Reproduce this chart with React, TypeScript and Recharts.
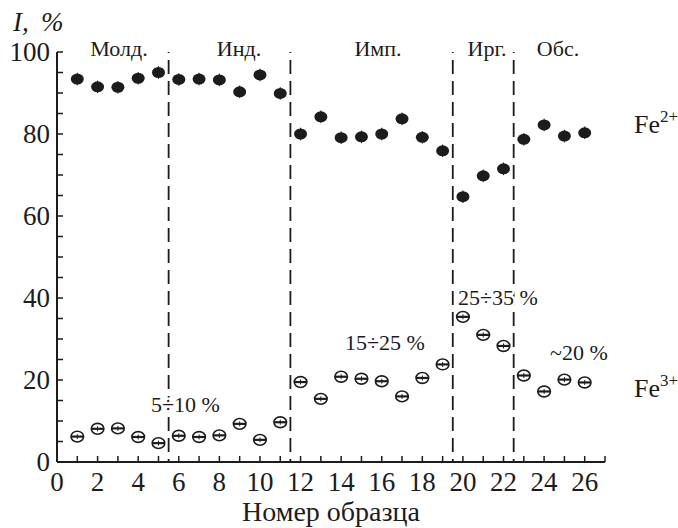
// Интенсивность Fe2+/Fe3+ по номерам образцов (мёссбауэровские спектры)
import { ReferenceLine, Scatter, ScatterChart, XAxis, YAxis } from 'recharts'

const samples = [1, 2, 3, 4, 5, 6, 7, 8, 9, 10, 11, 12, 13, 14, 15, 16, 17, 18, 19, 20, 21, 22, 23, 24, 25, 26]
const fe2Values = [
  93.4, 91.5, 91.4, 93.6, 95.0, 93.3, 93.4, 93.2, 90.3, 94.4, 89.9, 80.0, 84.2, 79.1, 79.3, 80.0,
  83.7, 79.2, 75.9, 64.7, 69.8, 71.5, 78.7, 82.2, 79.5, 80.3,
]
const fe3Values = [
  6.2, 8.1, 8.2, 6.1, 4.6, 6.4, 6.1, 6.5, 9.3, 5.4, 9.7, 19.5, 15.4, 20.8, 20.3, 19.7, 16.0, 20.5,
  23.8, 35.4, 31.0, 28.3, 21.1, 17.2, 20.1, 19.4,
]
const groupBorders = [5.5, 11.5, 19.5, 22.5]
const xTicks = Array.from({ length: 28 }, (_, i) => i)
const yTicks = Array.from({ length: 21 }, (_, i) => i * 5)

const fe2Data = samples.map((x, i) => ({ x, y: fe2Values[i] }))
const fe3Data = samples.map((x, i) => ({ x, y: fe3Values[i] }))

const W = 678
const H = 528
const INK = '#1d1b1c'
const serif = { fontFamily: "'Liberation Serif', 'Times New Roman', serif" }

function YTick({ x, y, payload }: any) {
  const v = payload.value
  return (
    <g>
      <line x1={x} x2={x + 6} y1={y} y2={y} stroke={INK} strokeWidth={1.5} />
      {v % 20 === 0 && (
        <text x={x - 7} y={y} dy="0.35em" textAnchor="end" fontSize={27} style={serif} fill={INK}>
          {v}
        </text>
      )}
    </g>
  )
}

function XTick({ x, y, payload }: any) {
  const v = payload.value
  return (
    <g>
      {v > 0 && <line x1={x} x2={x} y1={y} y2={y - 6} stroke={INK} strokeWidth={1.5} />}
      {v % 2 === 0 && (
        <text x={x} y={y + 29} textAnchor="middle" fontSize={27} style={serif} fill={INK}>
          {v}
        </text>
      )}
    </g>
  )
}

function FilledDot({ cx, cy }: any) {
  return (
    <g>
      <ellipse cx={cx} cy={cy} rx={6.5} ry={5.5} fill={INK} />
      <line x1={cx} x2={cx} y1={cy - 6.3} y2={cy + 6.3} stroke={INK} strokeWidth={1} />
    </g>
  )
}

function OpenDot({ cx, cy }: any) {
  return (
    <g>
      <ellipse cx={cx} cy={cy} rx={6.3} ry={5.4} fill="#fff" stroke={INK} strokeWidth={1.6} />
      <line x1={cx - 6.3} x2={cx + 6.3} y1={cy} y2={cy} stroke={INK} strokeWidth={2.2} />
      <line x1={cx} x2={cx} y1={cy - 2.5} y2={cy + 2.5} stroke={INK} strokeWidth={1} />
    </g>
  )
}

const groups = [
  { text: 'Молд.', x: 119 },
  { text: 'Инд.', x: 239 },
  { text: 'Имп.', x: 378 },
  { text: 'Ирг.', x: 487 },
  { text: 'Обс.', x: 558 },
]

const ranges = [
  { text: '5÷10 %', x: 151, y: 412 },
  { text: '15÷25 %', x: 345, y: 350 },
  { text: '25÷35 %', x: 458, y: 305 },
  { text: '~20 %', x: 550, y: 360 },
]

export default function App() {
  return (
    <div style={{ position: 'absolute', left: 0, top: 0, width: W, height: H, background: '#fff', ...serif }}>
      <ScatterChart width={W} height={H} margin={{ top: 52, right: 73, bottom: 0, left: 0 }}>
        <XAxis
          type="number"
          dataKey="x"
          domain={[0, 27]}
          ticks={xTicks}
          interval={0}
          height={66}
          tickSize={0}
          tickMargin={0}
          tickLine={false}
          tick={<XTick />}
          axisLine={{ stroke: INK, strokeWidth: 2 }}
        />
        <YAxis
          type="number"
          dataKey="y"
          domain={[0, 100]}
          ticks={yTicks}
          interval={0}
          width={57}
          tickSize={0}
          tickMargin={0}
          tickLine={false}
          tick={<YTick />}
          axisLine={{ stroke: INK, strokeWidth: 2 }}
        />
        {groupBorders.map((b) => (
          <ReferenceLine
            key={b}
            x={b}
            stroke={INK}
            strokeWidth={1.8}
            strokeDasharray="14 7"
            strokeDashoffset={-10}
          />
        ))}
        <Scatter data={fe2Data} shape={<FilledDot />} isAnimationActive={false} />
        <Scatter data={fe3Data} shape={<OpenDot />} isAnimationActive={false} />
      </ScatterChart>
      <svg
        width={W}
        height={H}
        style={{ position: 'absolute', left: 0, top: 0, pointerEvents: 'none', ...serif }}
        fill={INK}
      >
        <text y={31} fontSize={27} fontStyle="italic">
          <tspan x={13}>I,</tspan>
          <tspan x={41}>%</tspan>
        </text>
        {groups.map((g) => (
          <text key={g.text} x={g.x} y={56} fontSize={22} textAnchor="middle">
            {g.text}
          </text>
        ))}
        {ranges.map((r) => (
          <text
            key={r.text}
            x={r.x}
            y={r.y}
            fontSize={22}
            stroke="#fff"
            strokeWidth={5}
            paintOrder="stroke"
            strokeLinejoin="round"
          >
            {r.text}
          </text>
        ))}
        <text x={634} y={133} fontSize={26}>
          Fe<tspan fontSize={17} dy={-11}>2+</tspan>
        </text>
        <text x={634} y={397} fontSize={26}>
          Fe<tspan fontSize={17} dy={-11}>3+</tspan>
        </text>
        <text x={331} y={521} fontSize={28} textAnchor="middle">
          Номер образца
        </text>
      </svg>
    </div>
  )
}
